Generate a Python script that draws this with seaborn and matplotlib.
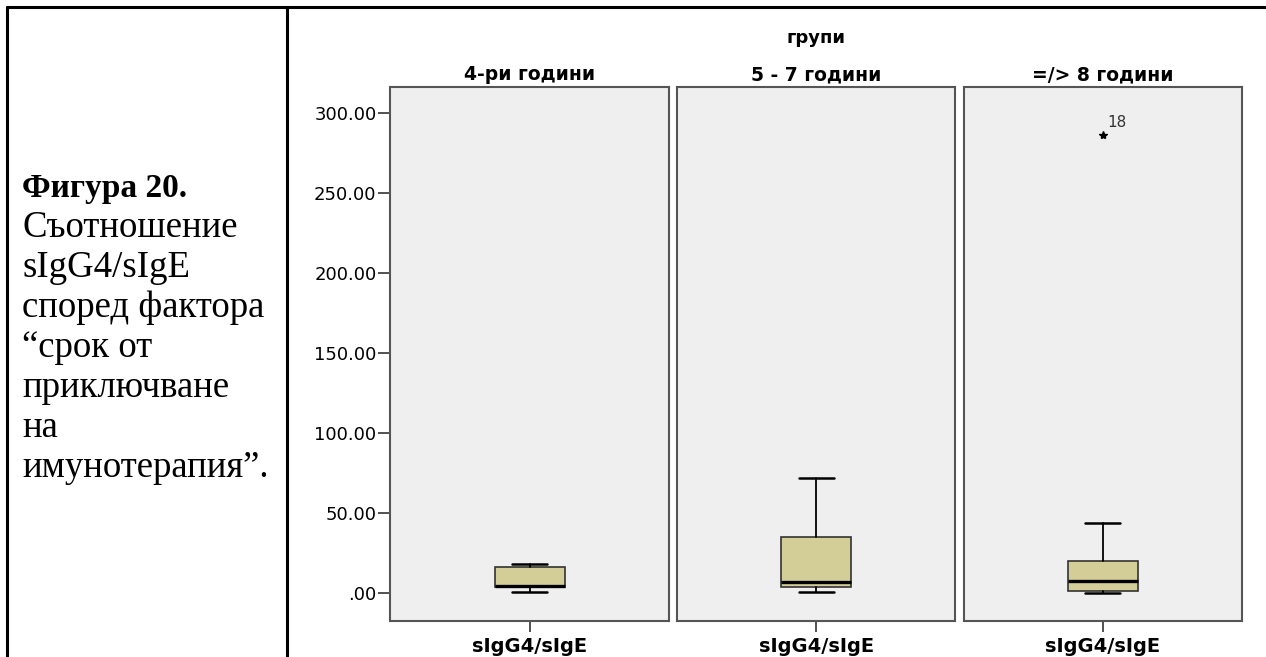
import matplotlib
matplotlib.use("Agg")
import matplotlib.pyplot as plt
import seaborn as sns
from matplotlib.lines import Line2D

sns.set_style("white")
plt.rcParams['font.family'] = ['DejaVu Sans']
plt.rcParams['text.color'] = 'black'
plt.rcParams['xtick.color'] = 'black'
plt.rcParams['ytick.color'] = 'black'
plt.rcParams['xtick.labelcolor'] = 'black'
plt.rcParams['ytick.labelcolor'] = 'black'

# ---- data ----
groups = ["4-ри години", "5 - 7 години", "=/> 8 години"]
whisker_low = [0.4, 0.6, 0.3]
q1 = [3.9, 3.8, 1.3]
median = [4.5, 7.0, 7.4]
q3 = [16.4, 34.8, 20.0]
whisker_high = [18.1, 72.0, 44.0]
outliers = [[], [], [286.0]]
outlier_ids = [[], [], ["18"]]
variable = "sIgG4/sIgE"
facet_title = "групи"
yticks = [0, 50, 100, 150, 200, 250, 300]

caption_bold = "Фигура 20."
caption_lines = ["Съотношение", "sIgG4/sIgE", "според фактора", "“срок от",
                 "приключване", "на", "имунотерапия”."]

W, H = 1266, 657
fig = plt.figure(figsize=(W / 100, H / 100), dpi=100)
fig.patch.set_facecolor("white")

def fx(px):
    return px / W

def fy(py):
    return 1 - py / H

# table borders
for (x0, y0, x1, y1) in [(7, 7, 1266, 7), (7, 7, 7, 657), (287, 7, 287, 657)]:
    fig.add_artist(Line2D([fx(x0), fx(x1)], [fy(y0), fy(y1)], color="black", lw=2.2))

# caption text
fig.text(fx(22), fy(188), caption_bold, family="Liberation Serif", fontweight="bold",
         fontsize=24, va="center", ha="left", color="black")
for i, line in enumerate(caption_lines):
    fig.text(fx(22), fy(228 + 40 * i), line, family="Liberation Serif",
             fontsize=26.5, va="center", ha="left", color="black")

# panels
panel_left = [390.5, 677, 963.5]
panel_w = 278.5
top_px, bot_px = 87, 620.5
ymin, ymax = (593 - bot_px) / 1.6, (593 - top_px) / 1.6

box_color = "#D3CE97"
edge_grey = "#555555"

axes = []
for i, g in enumerate(groups):
    ax = fig.add_axes([fx(panel_left[i]), fy(bot_px), panel_w / W, (bot_px - top_px) / H])
    axes.append(ax)
    ax.set_facecolor("#EFEFEF")
    stats = [{
        "whislo": whisker_low[i], "q1": q1[i], "med": median[i], "q3": q3[i],
        "whishi": whisker_high[i], "fliers": outliers[i], "label": variable,
    }]
    ax.bxp(stats, positions=[0], widths=0.25, capwidths=0.125, patch_artist=True,
           boxprops=dict(facecolor=box_color, edgecolor="#333333", linewidth=1.2),
           medianprops=dict(color="black", linewidth=2.4),
           whiskerprops=dict(color="black", linewidth=1.3),
           capprops=dict(color="black", linewidth=1.8),
           flierprops=dict(marker="*", markersize=6, markerfacecolor="black",
                           markeredgecolor="black"))
    for v, lab in zip(outliers[i], outlier_ids[i]):
        ax.annotate(lab, (0, v), xytext=(3, 4), textcoords="offset points",
                    fontsize=11, color="#333333", ha="left", va="bottom")
    ax.set_xlim(-0.5, 0.5)
    ax.set_ylim(ymin, ymax)
    ax.set_xticks([0])
    ax.set_xticklabels([variable], fontweight="bold", fontsize=14)
    ax.tick_params(axis="x", direction="out", length=8, width=1.2, color="#333333",
                   pad=4, bottom=True)
    for s in ax.spines.values():
        s.set_color(edge_grey)
        s.set_linewidth(1.5)
    if i == 0:
        ax.set_yticks(yticks)
        ax.set_yticklabels([(f"{v:.2f}" if v != 0 else ".00") for v in yticks], fontsize=13)
        ax.tick_params(axis="y", direction="out", length=9, width=1.2, color="#333333",
                       pad=1, left=True)
    else:
        ax.set_yticks([])
    ax.text(0.5, 1.0 + 3 / (bot_px - top_px), g, transform=ax.transAxes, ha="center",
            va="bottom", fontweight="bold", fontsize=13.5)
    ax.set_title("")

# facet header
fig.text(fx((panel_left[0] + panel_left[2] + panel_w) / 2), fy(38), facet_title,
         ha="center", va="center", fontweight="bold", fontsize=13)

fig.savefig("out.png", dpi=100, facecolor="white")
